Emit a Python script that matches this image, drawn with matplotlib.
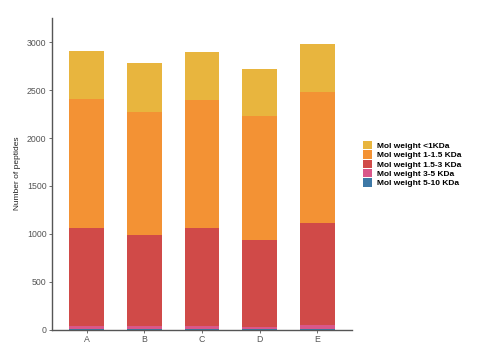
import numpy as np
import matplotlib.pyplot as plt
from matplotlib.patches import Patch

plt.rcParams['font.family'] = ['Liberation Sans', 'DejaVu Sans']

samples = ["A", "B", "C", "D", "E"]
# stacked from bottom: 5-10, 3-5, 1.5-3, 1-1.5, <1 KDa
mw_5_10 = [6, 5, 6, 5, 7]
mw_3_5 = [34, 28, 34, 26, 40]
mw_15_3 = [1023, 960, 1023, 906, 1065]
mw_1_15 = [1344, 1282, 1337, 1289, 1372]
mw_lt1 = [498, 505, 499, 498, 498]

labels = ["Mol weight <1KDa", "Mol weight 1-1.5 KDa", "Mol weight 1.5-3 KDa",
          "Mol weight 3-5 KDa", "Mol weight 5-10 KDa"]
colors = ["#E8B53E", "#F39234", "#D04A48", "#D9578A", "#3D78A6"]

fig = plt.figure(figsize=(4.82, 3.56), dpi=100)
ax = fig.add_axes([0.108, 0.074, 0.622, 0.876])

x = np.arange(len(samples))
series = [mw_5_10, mw_3_5, mw_15_3, mw_1_15, mw_lt1]
series_colors = colors[::-1]
bottom = np.zeros(len(samples))
for vals, c in zip(series, series_colors):
    ax.bar(x, vals, bottom=bottom, width=0.6, color=c, edgecolor="none")
    bottom += np.array(vals)

ax.set_xlim(-0.6, 4.6)
ax.set_ylim(0, 3255)
ax.set_xticks(x)
ax.set_xticklabels(samples)
ax.set_yticks([0, 500, 1000, 1500, 2000, 2500, 3000])
ax.tick_params(labelsize=6.3, colors="#555555", length=2, width=0.6, pad=2)
ax.set_ylabel("Number of peptides", fontsize=6, color="#222222", labelpad=4)
for s in ["top", "right"]:
    ax.spines[s].set_visible(False)
for s in ["left", "bottom"]:
    ax.spines[s].set_color("#555555")
    ax.spines[s].set_linewidth(1.0)

handles = [Patch(facecolor=c, edgecolor="none") for c in colors]
fig.legend(handles, labels, loc="upper left", bbox_to_anchor=(0.738, 0.625),
           frameon=False, prop={"size": 6, "weight": "bold"},
           handlelength=1.0, handleheight=1.15, handletextpad=0.7,
           labelspacing=0.05)

fig.savefig("out.png", dpi=100)
